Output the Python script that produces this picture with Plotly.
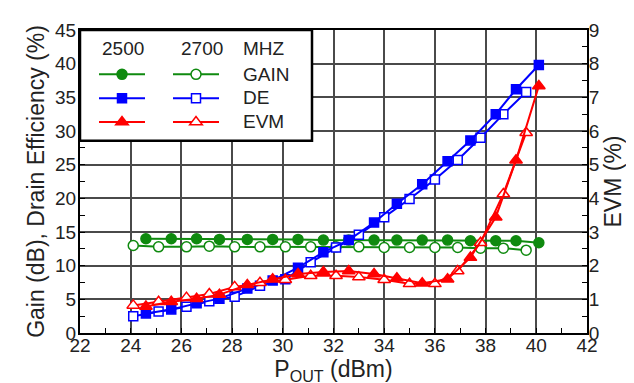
import plotly.graph_objects as go

# ---------------- data ----------------
pout_2500 = [24.6, 25.6, 26.6, 27.5, 28.6, 29.6, 30.6, 31.6, 32.6, 33.6, 34.5, 35.5, 36.5, 37.4, 38.4, 39.2, 40.1]
pout_2700 = [24.1, 25.1, 26.2, 27.1, 28.1, 29.1, 30.1, 31.1, 32.1, 33.0, 34.0, 35.0, 36.0, 36.9, 37.8, 38.7, 39.6]

gain_2500 = [14.0, 14.0, 14.0, 13.9, 13.9, 13.9, 13.9, 13.8, 13.8, 13.8, 13.8, 13.8, 13.8, 13.7, 13.7, 13.7, 13.4]
gain_2700 = [13.0, 12.8, 12.8, 12.9, 12.8, 12.8, 12.8, 12.8, 12.8, 12.8, 12.7, 12.7, 12.7, 12.7, 12.6, 12.6, 12.3]

de_2500 = [2.9, 3.5, 4.4, 5.1, 6.6, 7.8, 9.7, 12.0, 13.8, 16.4, 19.2, 22.1, 25.5, 28.6, 32.5, 36.2, 39.8]
de_2700 = [2.5, 3.2, 3.9, 4.7, 5.4, 7.0, 8.0, 10.5, 12.7, 14.6, 17.2, 19.9, 22.8, 25.7, 29.0, 32.5, 35.8]

evm_2500 = [0.79, 0.93, 1.02, 1.14, 1.43, 1.60, 1.75, 1.81, 1.84, 1.75, 1.63, 1.48, 1.60, 2.24, 3.44, 5.13, 7.34]
evm_2700 = [0.82, 0.93, 1.05, 1.16, 1.37, 1.49, 1.58, 1.70, 1.70, 1.66, 1.58, 1.46, 1.46, 1.84, 2.68, 4.13, 5.95]

freq_labels = ["2500", "2700", "MHZ"]
metric_labels = ["GAIN", "DE", "EVM"]

x_ticks = list(range(22, 43, 2))
y_ticks = list(range(0, 46, 5))
y2_ticks = list(range(0, 10, 1))

# ---------------- style ----------------
GREEN = "#0f8a0f"
BLUE = "#0000ff"
RED = "#ff0000"
FONT = "Liberation Sans, Arial, sans-serif"

fig = go.Figure()


def add(x, y, color, symbol, filled, legend, yaxis="y", size=10):
    fig.add_trace(go.Scatter(
        x=x, y=y, mode="lines+markers", name="\u00a0", yaxis=yaxis,
        legend=legend, showlegend=True,
        line=dict(color=color, width=2),
        marker=dict(symbol=symbol, size=size,
                    color=color if filled else "white",
                    line=dict(color=color, width=1.5)),
        hoverinfo="skip",
    ))


# 2500 MHz (filled markers) -> legend, 2700 MHz (open markers) -> legend2
add(pout_2700, gain_2700, GREEN, "circle", False, "legend2")
add(pout_2500, gain_2500, GREEN, "circle", True, "legend")
add(pout_2700, de_2700, BLUE, "square", False, "legend2", size=9)
add(pout_2500, de_2500, BLUE, "square", True, "legend", size=9)
add(pout_2700, evm_2700, RED, "triangle-up", False, "legend2", yaxis="y2", size=11)
add(pout_2500, evm_2500, RED, "triangle-up", True, "legend", yaxis="y2", size=11)

L, R, T, B = 72, 55, 16, 58
W, H = 634, 383
pw, ph = W - L - R, H - T - B


def px_x(px):
    return (px - L) / pw


def px_y(py):
    return 1 - (py - T) / ph


tickfont = dict(family=FONT, size=19, color="#222")
titlefont = dict(family=FONT, size=23, color="#222")
grid = dict(showgrid=True, gridcolor="#4a4a4a", gridwidth=1.5)

fig.update_layout(
    width=W, height=H,
    margin=dict(l=L, r=R, t=T, b=B),
    paper_bgcolor="white", plot_bgcolor="white",
    xaxis=dict(range=[22, 42], tickvals=x_ticks, tickfont=tickfont, ticklabelstandoff=-6,
               title=dict(text="P<sub>OUT</sub> (dBm)", font=titlefont, standoff=0),
               showline=True, linecolor="black", linewidth=2, mirror=True,
               ticks="inside", ticklen=5, tickcolor="black",
               minor=dict(dtick=1, ticks="inside", ticklen=5, tickcolor="black", showgrid=False),
               zeroline=False, **grid),
    yaxis=dict(range=[0, 45], tickvals=y_ticks, tickfont=tickfont, ticklabelstandoff=-2,
               title=dict(text="Gain (dB), Drain Efficiency (%)", font=titlefont, standoff=4),
               showline=True, linecolor="black", linewidth=2, mirror=True,
               ticks="inside", ticklen=5, tickcolor="black",
               minor=dict(dtick=2.5, ticks="inside", ticklen=5, tickcolor="black", showgrid=False),
               zeroline=False, **grid),
    yaxis2=dict(range=[0, 9], tickvals=y2_ticks, tickfont=tickfont, overlaying="y", side="right",
                ticklabelstandoff=-4,
                title=dict(text="EVM (%)", font=titlefont, standoff=6),
                showline=True, linecolor="black", linewidth=2,
                ticks="inside", ticklen=5, tickcolor="black",
                minor=dict(dtick=0.5, ticks="inside", ticklen=5, tickcolor="black", showgrid=False),
                showgrid=False, zeroline=False),
    legend=dict(x=px_x(86), y=px_y(44), xanchor="left", yanchor="top",
                bgcolor="rgba(0,0,0,0)", borderwidth=0, itemwidth=46,
                font=dict(family=FONT, size=16), traceorder="normal"),
    legend2=dict(x=px_x(160), y=px_y(44), xanchor="left", yanchor="top",
                 bgcolor="rgba(0,0,0,0)", borderwidth=0, itemwidth=46,
                 font=dict(family=FONT, size=16), traceorder="normal"),
    shapes=[dict(type="rect", xref="paper", yref="paper",
                 x0=0, x1=px_x(304), y0=px_y(129), y1=1,
                 line=dict(color="black", width=2.5), fillcolor="white", layer="above")],
    showlegend=True,
)

legend_font = dict(family=FONT, size=19, color="#222")
ann = [
    dict(text=freq_labels[0], x=px_x(115), y=px_y(35), xanchor="center"),
    dict(text=freq_labels[1], x=px_x(194), y=px_y(35), xanchor="center"),
    dict(text=freq_labels[2], x=px_x(233), y=px_y(35), xanchor="left"),
    dict(text=metric_labels[0], x=px_x(233), y=px_y(61), xanchor="left"),
    dict(text=metric_labels[1], x=px_x(233), y=px_y(85), xanchor="left"),
    dict(text=metric_labels[2], x=px_x(233), y=px_y(109), xanchor="left"),
]
for a in ann:
    a.update(xref="paper", yref="paper", yanchor="middle", showarrow=False, font=legend_font)
fig.update_layout(annotations=ann)

fig.write_html("out.html")
